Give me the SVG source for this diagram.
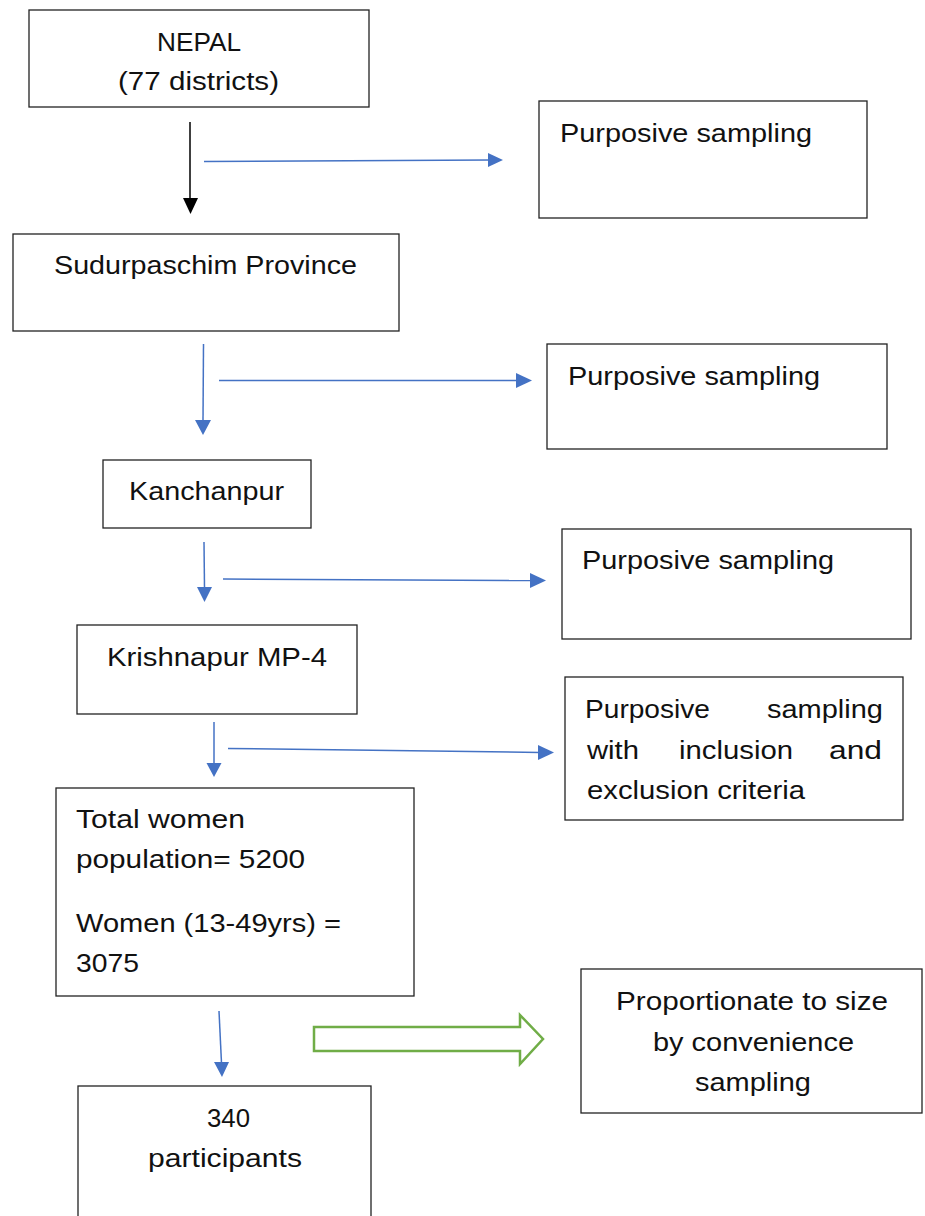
<svg xmlns="http://www.w3.org/2000/svg" width="925" height="1216" viewBox="0 0 925 1216">
<style>
.box{fill:#fff;stroke:#222;stroke-width:1.3}
.t{font-family:"Liberation Sans",Arial,sans-serif;font-size:26px;fill:#111}
.blue{stroke:#4472C4;stroke-width:1.5;fill:none}
.bh{fill:#4472C4}
</style>
<rect width="925" height="1216" fill="#fff"/>
<g id="n-nepal">
<rect class="box" x="29" y="10" width="340" height="97"/>
<text class="t" x="157" y="51" textLength="84" lengthAdjust="spacingAndGlyphs">NEPAL</text>
<text class="t" x="118" y="90" textLength="161" lengthAdjust="spacingAndGlyphs">(77 districts)</text>
</g>
<g id="n-ps1">
<rect class="box" x="539" y="101" width="328" height="117"/>
<text class="t" x="560" y="142" textLength="252" lengthAdjust="spacingAndGlyphs">Purposive sampling</text>
</g>
<g id="n-sudur">
<rect class="box" x="13" y="234" width="386" height="97"/>
<text class="t" x="54" y="274" textLength="303" lengthAdjust="spacingAndGlyphs">Sudurpaschim Province</text>
</g>
<g id="n-ps2">
<rect class="box" x="547" y="344" width="340" height="105"/>
<text class="t" x="568" y="385" textLength="252" lengthAdjust="spacingAndGlyphs">Purposive sampling</text>
</g>
<g id="n-kanchanpur">
<rect class="box" x="103" y="460" width="208" height="68"/>
<text class="t" x="129" y="500" textLength="155" lengthAdjust="spacingAndGlyphs">Kanchanpur</text>
</g>
<g id="n-ps3">
<rect class="box" x="562" y="529" width="349" height="110"/>
<text class="t" x="582" y="569" textLength="252" lengthAdjust="spacingAndGlyphs">Purposive sampling</text>
</g>
<g id="n-krishnapur">
<rect class="box" x="77" y="625" width="280" height="89"/>
<text class="t" x="107" y="666" textLength="220" lengthAdjust="spacingAndGlyphs">Krishnapur MP-4</text>
</g>
<g id="n-ps4">
<rect class="box" x="565" y="677" width="338" height="143"/>
<text class="t" y="718"><tspan x="585" textLength="125" lengthAdjust="spacingAndGlyphs">Purposive</tspan><tspan x="767" textLength="116" lengthAdjust="spacingAndGlyphs">sampling</tspan></text>
<text class="t" y="759"><tspan x="587" textLength="52" lengthAdjust="spacingAndGlyphs">with</tspan><tspan x="679" textLength="114" lengthAdjust="spacingAndGlyphs">inclusion</tspan><tspan x="829" textLength="53" lengthAdjust="spacingAndGlyphs">and</tspan></text>
<text class="t" x="587" y="799" textLength="218" lengthAdjust="spacingAndGlyphs">exclusion criteria</text>
</g>
<g id="n-women">
<rect class="box" x="56" y="788" width="358" height="208"/>
<text class="t" x="76" y="828" textLength="169" lengthAdjust="spacingAndGlyphs">Total women</text>
<text class="t" x="76" y="868" textLength="229" lengthAdjust="spacingAndGlyphs">population= 5200</text>
<text class="t" x="76" y="932" textLength="265" lengthAdjust="spacingAndGlyphs">Women (13-49yrs) =</text>
<text class="t" x="76" y="972" textLength="63" lengthAdjust="spacingAndGlyphs">3075</text>
</g>
<g id="n-prop">
<rect class="box" x="581" y="969" width="341" height="144"/>
<text class="t" x="616" y="1010" textLength="272" lengthAdjust="spacingAndGlyphs">Proportionate to size</text>
<text class="t" x="653" y="1051" textLength="201" lengthAdjust="spacingAndGlyphs">by convenience</text>
<text class="t" x="695" y="1091" textLength="116" lengthAdjust="spacingAndGlyphs">sampling</text>
</g>
<g id="n-340">
<rect class="box" x="78" y="1086" width="293" height="150"/>
<text class="t" x="207" y="1127" textLength="43" lengthAdjust="spacingAndGlyphs">340</text>
<text class="t" x="148" y="1167" textLength="154" lengthAdjust="spacingAndGlyphs">participants</text>
</g>
<g id="connectors">
<line x1="190" y1="122" x2="190" y2="199" stroke="#000" stroke-width="1.5"/>
<polygon points="183,198 198,198 190.5,214" fill="#000"/>
<line class="blue" x1="204" y1="161.5" x2="490" y2="160"/>
<polygon class="bh" points="488,153 488,167 503,160"/>
<line class="blue" x1="203.5" y1="344" x2="203" y2="421"/>
<polygon class="bh" points="195,420 211,420 203,435"/>
<line class="blue" x1="219" y1="380.5" x2="518" y2="380.5"/>
<polygon class="bh" points="516,373 516,388 532,380.5"/>
<line class="blue" x1="204" y1="542" x2="204.5" y2="588"/>
<polygon class="bh" points="197,587 212,587 204.5,602"/>
<line class="blue" x1="223" y1="579" x2="532" y2="580.5"/>
<polygon class="bh" points="530,573 530,588 546,580.5"/>
<line class="blue" x1="214" y1="722" x2="214" y2="764"/>
<polygon class="bh" points="206.5,763 221.5,763 214,777"/>
<line class="blue" x1="228" y1="748.5" x2="540" y2="752.5"/>
<polygon class="bh" points="538,745 538,760 554,752.5"/>
<line class="blue" x1="219" y1="1011" x2="221.5" y2="1063"/>
<polygon class="bh" points="214,1062 229,1062 222,1077"/>
<polygon points="314,1027 520,1027 520,1015 543,1039 520,1064 520,1051 314,1051" fill="#fff" stroke="#70AD47" stroke-width="2.5"/>
</g>
</svg>
